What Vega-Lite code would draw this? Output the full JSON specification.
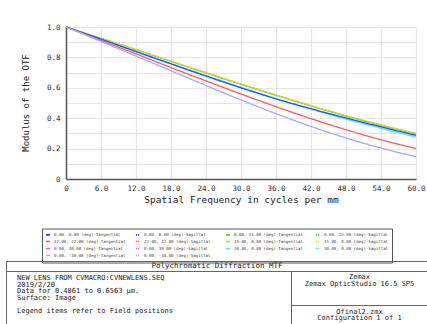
{
  "$schema": "https://vega.github.io/schema/vega-lite/v6.json",
  "background": "white",
  "padding": {"left": 5, "top": 23, "right": 0, "bottom": 0},
  "config": {"view": {"stroke": null}, "concat": {"spacing": 0}},
  "spacing": 56,
  "vconcat": [
    {
      "spacing": 0,
      "hconcat": [
        {
          "width": 40,
          "height": 152,
          "data": {"values": [{"t": "Modulus of the OTF"}]},
          "mark": {"type": "text", "angle": 270, "font": "DejaVu Sans Mono", "fontSize": 9, "color": "#222"},
          "encoding": {"text": {"field": "t"}}
        },
        {
          "width": 350,
          "height": 152,
          "data": {"values": [
            {"s": "0.00, 15.00 (deg)-Tangential", "f": 0, "m": 1.0},
            {"s": "0.00, 15.00 (deg)-Tangential", "f": 6, "m": 0.926},
            {"s": "0.00, 15.00 (deg)-Tangential", "f": 12, "m": 0.851},
            {"s": "0.00, 15.00 (deg)-Tangential", "f": 18, "m": 0.774},
            {"s": "0.00, 15.00 (deg)-Tangential", "f": 24, "m": 0.698},
            {"s": "0.00, 15.00 (deg)-Tangential", "f": 30, "m": 0.623},
            {"s": "0.00, 15.00 (deg)-Tangential", "f": 36, "m": 0.551},
            {"s": "0.00, 15.00 (deg)-Tangential", "f": 42, "m": 0.481},
            {"s": "0.00, 15.00 (deg)-Tangential", "f": 48, "m": 0.414},
            {"s": "0.00, 15.00 (deg)-Tangential", "f": 54, "m": 0.353},
            {"s": "0.00, 15.00 (deg)-Tangential", "f": 60, "m": 0.296},
            {"s": "15.00, 0.00 (deg)-Tangential", "f": 0, "m": 1.0},
            {"s": "15.00, 0.00 (deg)-Tangential", "f": 6, "m": 0.926},
            {"s": "15.00, 0.00 (deg)-Tangential", "f": 12, "m": 0.851},
            {"s": "15.00, 0.00 (deg)-Tangential", "f": 18, "m": 0.775},
            {"s": "15.00, 0.00 (deg)-Tangential", "f": 24, "m": 0.699},
            {"s": "15.00, 0.00 (deg)-Tangential", "f": 30, "m": 0.625},
            {"s": "15.00, 0.00 (deg)-Tangential", "f": 36, "m": 0.553},
            {"s": "15.00, 0.00 (deg)-Tangential", "f": 42, "m": 0.483},
            {"s": "15.00, 0.00 (deg)-Tangential", "f": 48, "m": 0.417},
            {"s": "15.00, 0.00 (deg)-Tangential", "f": 54, "m": 0.356},
            {"s": "15.00, 0.00 (deg)-Tangential", "f": 60, "m": 0.300},
            {"s": "30.00, 0.00 (deg)-Tangential", "f": 0, "m": 1.0},
            {"s": "30.00, 0.00 (deg)-Tangential", "f": 6, "m": 0.921},
            {"s": "30.00, 0.00 (deg)-Tangential", "f": 12, "m": 0.840},
            {"s": "30.00, 0.00 (deg)-Tangential", "f": 18, "m": 0.760},
            {"s": "30.00, 0.00 (deg)-Tangential", "f": 24, "m": 0.680},
            {"s": "30.00, 0.00 (deg)-Tangential", "f": 30, "m": 0.603},
            {"s": "30.00, 0.00 (deg)-Tangential", "f": 36, "m": 0.529},
            {"s": "30.00, 0.00 (deg)-Tangential", "f": 42, "m": 0.460},
            {"s": "30.00, 0.00 (deg)-Tangential", "f": 48, "m": 0.394},
            {"s": "30.00, 0.00 (deg)-Tangential", "f": 54, "m": 0.333},
            {"s": "30.00, 0.00 (deg)-Tangential", "f": 60, "m": 0.276},
            {"s": "0.00, 0.00 (deg)-Tangential", "f": 0, "m": 1.0},
            {"s": "0.00, 0.00 (deg)-Tangential", "f": 6, "m": 0.920},
            {"s": "0.00, 0.00 (deg)-Tangential", "f": 12, "m": 0.838},
            {"s": "0.00, 0.00 (deg)-Tangential", "f": 18, "m": 0.757},
            {"s": "0.00, 0.00 (deg)-Tangential", "f": 24, "m": 0.677},
            {"s": "0.00, 0.00 (deg)-Tangential", "f": 30, "m": 0.600},
            {"s": "0.00, 0.00 (deg)-Tangential", "f": 36, "m": 0.527},
            {"s": "0.00, 0.00 (deg)-Tangential", "f": 42, "m": 0.462},
            {"s": "0.00, 0.00 (deg)-Tangential", "f": 48, "m": 0.402},
            {"s": "0.00, 0.00 (deg)-Tangential", "f": 54, "m": 0.343},
            {"s": "0.00, 0.00 (deg)-Tangential", "f": 60, "m": 0.287},
            {"s": "22.00, 22.00 (deg)-Tangential", "f": 0, "m": 1.0},
            {"s": "22.00, 22.00 (deg)-Tangential", "f": 6, "m": 0.912},
            {"s": "22.00, 22.00 (deg)-Tangential", "f": 12, "m": 0.823},
            {"s": "22.00, 22.00 (deg)-Tangential", "f": 18, "m": 0.733},
            {"s": "22.00, 22.00 (deg)-Tangential", "f": 24, "m": 0.645},
            {"s": "22.00, 22.00 (deg)-Tangential", "f": 30, "m": 0.559},
            {"s": "22.00, 22.00 (deg)-Tangential", "f": 36, "m": 0.476},
            {"s": "22.00, 22.00 (deg)-Tangential", "f": 42, "m": 0.397},
            {"s": "22.00, 22.00 (deg)-Tangential", "f": 48, "m": 0.324},
            {"s": "22.00, 22.00 (deg)-Tangential", "f": 54, "m": 0.258},
            {"s": "22.00, 22.00 (deg)-Tangential", "f": 60, "m": 0.200},
            {"s": "0.00, -30.00 (deg)-Tangential", "f": 0, "m": 1.0},
            {"s": "0.00, -30.00 (deg)-Tangential", "f": 6, "m": 0.905},
            {"s": "0.00, -30.00 (deg)-Tangential", "f": 12, "m": 0.809},
            {"s": "0.00, -30.00 (deg)-Tangential", "f": 18, "m": 0.712},
            {"s": "0.00, -30.00 (deg)-Tangential", "f": 24, "m": 0.615},
            {"s": "0.00, -30.00 (deg)-Tangential", "f": 30, "m": 0.520},
            {"s": "0.00, -30.00 (deg)-Tangential", "f": 36, "m": 0.430},
            {"s": "0.00, -30.00 (deg)-Tangential", "f": 42, "m": 0.346},
            {"s": "0.00, -30.00 (deg)-Tangential", "f": 48, "m": 0.270},
            {"s": "0.00, -30.00 (deg)-Tangential", "f": 54, "m": 0.203},
            {"s": "0.00, -30.00 (deg)-Tangential", "f": 60, "m": 0.147}
          ]},
          "mark": {"type": "line", "interpolate": "monotone", "strokeWidth": 1.3},
          "encoding": {
            "x": {
              "field": "f", "type": "quantitative",
              "scale": {"domain": [0, 60], "nice": false, "zero": false},
              "axis": {
                "values": [0, 6, 12, 18, 24, 30, 36, 42, 48, 54, 60],
                "labelExpr": "datum.value == 0 ? '0' : format(datum.value, '.1f')",
                "grid": true, "gridColor": "#e6e6e6", "gridWidth": 1.2,
                "ticks": false, "labelFlush": false,
                "labelFont": "DejaVu Sans Mono", "labelFontSize": 7.5, "labelColor": "#333", "labelPadding": 5,
                "domainColor": "#555", "domainWidth": 1.5,
                "title": "Spatial Frequency in cycles per mm",
                "titleFont": "DejaVu Sans Mono", "titleFontSize": 9.5, "titleFontWeight": "normal", "titleColor": "#222", "titlePadding": 3
              }
            },
            "y": {
              "field": "m", "type": "quantitative",
              "scale": {"domain": [0, 1], "nice": false},
              "axis": {
                "values": [0, 0.1, 0.2, 0.3, 0.4, 0.5, 0.6, 0.7, 0.8, 0.9, 1.0],
                "labelExpr": "datum.value == 0 ? '0' : (round(datum.value * 10) % 2 == 0 ? format(datum.value, '.1f') : '')",
                "grid": true, "gridColor": "#e6e6e6", "gridWidth": 1.2,
                "ticks": false, "labelFlush": false,
                "labelFont": "DejaVu Sans Mono", "labelFontSize": 7.5, "labelColor": "#333", "labelPadding": 6,
                "domainColor": "#555", "domainWidth": 1.5,
                "title": null
              }
            },
            "color": {
              "field": "s", "type": "nominal",
              "scale": {
                "domain": ["0.00, 0.00 (deg)-Tangential", "0.00, 0.00 (deg)-Sagittal", "0.00, 15.00 (deg)-Tangential", "0.00, 15.00 (deg)-Sagittal", "22.00, 22.00 (deg)-Tangential", "22.00, 22.00 (deg)-Sagittal", "15.00, 0.00 (deg)-Tangential", "15.00, 0.00 (deg)-Sagittal", "0.00, 30.00 (deg)-Tangential", "0.00, 30.00 (deg)-Sagittal", "30.00, 0.00 (deg)-Tangential", "30.00, 0.00 (deg)-Sagittal", "0.00, -30.00 (deg)-Tangential", "0.00, -30.00 (deg)-Sagittal"],
                "range": ["#1f4fff", "#1f4fff", "#5cd022", "#5cd022", "#ff5a5a", "#ff5a5a", "#d6cf3c", "#d6cf3c", "#ff4cff", "#ff4cff", "#4fe3ff", "#4fe3ff", "#a3a8ff", "#a3a8ff"]
              },
              "legend": {
                "title": null, "orient": "none", "legendX": 36, "legendY": 201.5, "columns": 4, "direction": "horizontal", "gridAlign": "all",
                "columnPadding": 6, "rowPadding": -1.5, "padding": 3, "strokeColor": "#555",
                "labelFont": "DejaVu Sans Mono", "labelFontSize": 4.1, "labelColor": "#444", "labelOffset": 3,
                "symbolType": "stroke", "symbolSize": 16, "symbolStrokeWidth": 1.6
              }
            },
            "strokeDash": {
              "field": "s", "type": "nominal",
              "scale": {
                "domain": ["0.00, 0.00 (deg)-Tangential", "0.00, 0.00 (deg)-Sagittal", "0.00, 15.00 (deg)-Tangential", "0.00, 15.00 (deg)-Sagittal", "22.00, 22.00 (deg)-Tangential", "22.00, 22.00 (deg)-Sagittal", "15.00, 0.00 (deg)-Tangential", "15.00, 0.00 (deg)-Sagittal", "0.00, 30.00 (deg)-Tangential", "0.00, 30.00 (deg)-Sagittal", "30.00, 0.00 (deg)-Tangential", "30.00, 0.00 (deg)-Sagittal", "0.00, -30.00 (deg)-Tangential", "0.00, -30.00 (deg)-Sagittal"],
                "range": [[1, 0], [1, 1], [1, 0], [1, 1], [1, 0], [1, 1], [1, 0], [1, 1], [1, 0], [1, 1], [1, 0], [1, 1], [1, 0], [1, 1]]
              },
              "legend": {
                "title": null, "orient": "none", "legendX": 36, "legendY": 201.5, "columns": 4, "direction": "horizontal", "gridAlign": "all",
                "columnPadding": 6, "rowPadding": -1.5, "padding": 3, "strokeColor": "#555",
                "labelFont": "DejaVu Sans Mono", "labelFontSize": 4.1, "labelColor": "#444", "labelOffset": 3,
                "symbolType": "stroke", "symbolSize": 16, "symbolStrokeWidth": 1.6
              }
            }
          }
        }
      ]
    },
    {
      "spacing": 0,
      "bounds": "flush",
      "vconcat": [
        {
          "width": 422,
          "height": 10,
          "view": {"stroke": "#666", "strokeWidth": 1},
          "data": {"values": [{"t": "Polychromatic Diffraction MTF"}]},
          "mark": {"type": "text", "font": "DejaVu Sans Mono", "fontSize": 7.5, "color": "#222", "baseline": "middle"},
          "encoding": {"text": {"field": "t"}}
        },
        {
          "spacing": 0,
          "bounds": "flush",
          "hconcat": [
            {
              "width": 285,
              "height": 53,
              "view": {"stroke": "#666", "strokeWidth": 1},
              "layer": [
                {
                  "data": {"values": [{"t": "NEW LENS FROM CVMACRO:CVNEWLENS.SEQ\n2019/2/20\nData for 0.4861 to 0.6563 µm.\nSurface: Image"}]},
                  "mark": {"type": "text", "align": "left", "baseline": "top", "lineBreak": "\n", "lineHeight": 6.5, "font": "DejaVu Sans Mono", "fontSize": 7, "color": "#222", "dx": 11, "dy": 3},
                  "encoding": {
                    "text": {"field": "t"},
                    "x": {"datum": 0, "type": "quantitative", "scale": {"domain": [0, 1]}, "axis": null},
                    "y": {"datum": 1, "type": "quantitative", "scale": {"domain": [0, 1]}, "axis": null}
                  }
                },
                {
                  "data": {"values": [{"t": "Legend items refer to Field positions"}]},
                  "mark": {"type": "text", "align": "left", "baseline": "top", "font": "DejaVu Sans Mono", "fontSize": 7, "color": "#222", "dx": 11, "dy": 36},
                  "encoding": {
                    "text": {"field": "t"},
                    "x": {"datum": 0, "type": "quantitative", "scale": {"domain": [0, 1]}, "axis": null},
                    "y": {"datum": 1, "type": "quantitative", "scale": {"domain": [0, 1]}, "axis": null}
                  }
                }
              ]
            },
            {
              "spacing": 0,
              "bounds": "flush",
              "vconcat": [
                {
                  "width": 137,
                  "height": 34,
                  "view": {"stroke": "#666", "strokeWidth": 1},
                  "data": {"values": [{"t": "Zemax\nZemax OpticStudio 16.5 SP5"}]},
                  "mark": {"type": "text", "align": "center", "baseline": "top", "lineBreak": "\n", "lineHeight": 6.7, "font": "DejaVu Sans Mono", "fontSize": 7, "color": "#222", "dy": 2},
                  "encoding": {
                    "text": {"field": "t"},
                    "y": {"datum": 1, "type": "quantitative", "scale": {"domain": [0, 1]}, "axis": null}
                  }
                },
                {
                  "width": 137,
                  "height": 19,
                  "view": {"stroke": "#666", "strokeWidth": 1},
                  "data": {"values": [{"t": "Ofinal2.zmx\nConfiguration 1 of 1"}]},
                  "mark": {"type": "text", "align": "center", "baseline": "top", "lineBreak": "\n", "lineHeight": 6.6, "font": "DejaVu Sans Mono", "fontSize": 7, "color": "#222", "dy": 2.5},
                  "encoding": {
                    "text": {"field": "t"},
                    "y": {"datum": 1, "type": "quantitative", "scale": {"domain": [0, 1]}, "axis": null}
                  }
                }
              ]
            }
          ]
        }
      ]
    }
  ]
}
